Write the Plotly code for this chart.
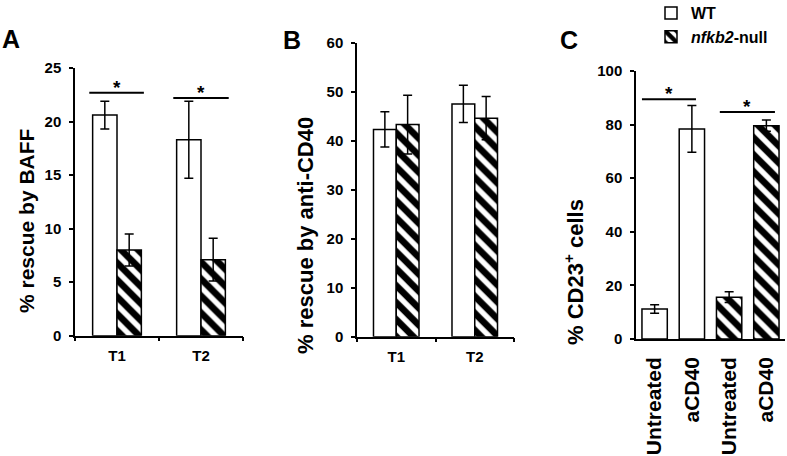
import plotly.graph_objects as go

# ---------------- data ----------------
timepoints = ["T1", "T2"]
a_wt = [20.6, 18.3]
a_wt_err = [1.3, 3.6]
a_null = [8.0, 7.1]
a_null_err = [1.5, 2.0]
a_sig_y = [22.7, 22.2]

b_wt = [42.3, 47.5]
b_wt_err = [3.6, 3.8]
b_null = [43.3, 44.6]
b_null_err = [6.0, 4.4]

c_labels = ["Untreated", "aCD40", "Untreated", "aCD40"]
c_vals = [11.2, 78.4, 15.6, 79.6]
c_err = [1.6, 8.7, 2.0, 2.1]
c_sig_y = [89.5, 84.7]

# ---------------- layout helpers ----------------
W, H = 787, 456
FONT = "Arial, Liberation Sans, sans-serif"


def px_x(p):
    return p / W


def px_y(p):
    return 1 - p / H


line_style = dict(color="black", width=1.5)
err_style = dict(type="data", color="black", thickness=1.5, width=4.5, visible=True)
hatch = dict(shape="\\", fgcolor="black", bgcolor="white", size=12, solidity=0.55, fgopacity=1)

fig = go.Figure()

# Panel A
fig.add_trace(go.Bar(x=timepoints, y=a_wt, error_y=dict(array=a_wt_err, **err_style),
                     offset=-0.29, width=0.29, name="WT", legendgroup="wt",
                     marker=dict(color="white", line=line_style), xaxis="x", yaxis="y"))
fig.add_trace(go.Bar(x=timepoints, y=a_null, error_y=dict(array=a_null_err, **err_style),
                     offset=0.0, width=0.29, name="<i>nfkb2</i>-null", legendgroup="null",
                     marker=dict(color="white", line=line_style, pattern=hatch), xaxis="x", yaxis="y"))
# Panel B
fig.add_trace(go.Bar(x=timepoints, y=b_wt, error_y=dict(array=b_wt_err, **err_style),
                     offset=-0.29, width=0.29, showlegend=False, legendgroup="wt",
                     marker=dict(color="white", line=line_style), xaxis="x2", yaxis="y2"))
fig.add_trace(go.Bar(x=timepoints, y=b_null, error_y=dict(array=b_null_err, **err_style),
                     offset=0.0, width=0.29, showlegend=False, legendgroup="null",
                     marker=dict(color="white", line=line_style, pattern=hatch), xaxis="x2", yaxis="y2"))
# Panel C
c_x = list(range(len(c_labels)))
fig.add_trace(go.Bar(x=c_x[:2], y=c_vals[:2], error_y=dict(array=c_err[:2], **err_style),
                     width=0.68, showlegend=False, legendgroup="wt",
                     marker=dict(color="white", line=line_style), xaxis="x3", yaxis="y3"))
fig.add_trace(go.Bar(x=c_x[2:], y=c_vals[2:], error_y=dict(array=c_err[2:], **err_style),
                     width=0.68, showlegend=False, legendgroup="null",
                     marker=dict(color="white", line=line_style, pattern=hatch), xaxis="x3", yaxis="y3"))

tickfont = dict(family=FONT, size=15, color="black", weight="bold")
common_x = dict(showline=True, linecolor="black", linewidth=1.5, showgrid=False, zeroline=False,
                ticks="outside", ticklen=4, tickwidth=1.5, tickcolor="black", tickfont=tickfont,
                fixedrange=True)
common_y = dict(showline=True, linecolor="black", linewidth=1.5, showgrid=False, zeroline=False,
                ticks="outside", ticklen=4, tickwidth=1.5, tickcolor="black", tickfont=tickfont,
                ticklabelstandoff=5, fixedrange=True)

fig.update_layout(
    width=W, height=H,
    margin=dict(l=0, r=0, t=0, b=0, autoexpand=False),
    paper_bgcolor="white", plot_bgcolor="white",
    font=dict(family=FONT, color="black"),
    showlegend=True,
    legend=dict(x=px_x(651), y=px_y(-4), xanchor="left", yanchor="top",
                font=dict(family=FONT, size=16, color="black", weight="bold"),
                bgcolor="rgba(0,0,0,0)", tracegroupgap=0, itemclick=False, itemdoubleclick=False),
    xaxis=dict(domain=[px_x(75), px_x(243)], anchor="y", type="category", range=[-0.5, 1.5],
               tickson="boundaries", ticklabelstandoff=6, **common_x),
    yaxis=dict(domain=[px_y(335.7), px_y(68)], anchor="x", range=[0, 25], dtick=5, **common_y),
    xaxis2=dict(domain=[px_x(357), px_x(514)], anchor="y2", type="category", range=[-0.5, 1.5],
                tickson="boundaries", ticklabelstandoff=6, **common_x),
    yaxis2=dict(domain=[px_y(336.7), px_y(42.7)], anchor="x2", range=[0, 60], dtick=10, **common_y),
    xaxis3=dict(domain=[px_x(636), px_x(785)], anchor="y3", range=[-0.5, 3.5],
                tickmode="array", tickvals=c_x, ticktext=[f"<b>{t}</b>" for t in c_labels],
                tickangle=-90,
                showline=True, linecolor="black", linewidth=1.5, showgrid=False, zeroline=False,
                ticks="", ticklabelstandoff=8, fixedrange=True,
                tickfont=dict(family=FONT, size=21, color="black", weight="bold")),
    yaxis3=dict(domain=[px_y(339), px_y(71)], anchor="x3", range=[0, 100], dtick=20, **common_y),
)

# significance bars
sig_specs = [
    ("x", "y", -0.33, 0.32, a_sig_y[0]),
    ("x", "y", 0.67, 1.33, a_sig_y[1]),
    ("x3", "y3", -0.34, 1.11, c_sig_y[0]),
    ("x3", "y3", 1.75, 3.23, c_sig_y[1]),
]
for xr, yr, x0, x1, yv in sig_specs:
    fig.add_shape(type="line", xref=xr, yref=yr, x0=x0, x1=x1, y0=yv, y1=yv,
                  line=dict(color="black", width=2))
    fig.add_annotation(xref=xr, yref=yr, x=(x0 + x1) / 2, y=yv, text="<b>*</b>", showarrow=False,
                       yanchor="bottom", yshift=-7, font=dict(family=FONT, size=19, color="black"))

# panel letters
for letter, cx, cy in [("A", 11, 39), ("B", 292, 40), ("C", 569, 40)]:
    fig.add_annotation(xref="paper", yref="paper", x=px_x(cx), y=px_y(cy), text=f"<b>{letter}</b>",
                       showarrow=False, xanchor="center", yanchor="middle",
                       font=dict(family=FONT, size=25, color="black"))

# y-axis titles
for text, cx, cy, size in [("% rescue by BAFF", 26, 221, 21),
                           ("% rescue by anti-CD40", 305, 236, 22),
                           ("% CD23<sup>+</sup> cells", 574, 272, 22)]:
    fig.add_annotation(xref="paper", yref="paper", x=px_x(cx), y=px_y(cy), text=f"<b>{text}</b>",
                       textangle=-90, showarrow=False, xanchor="center", yanchor="middle",
                       font=dict(family=FONT, size=size, color="black"))

fig.write_html("out.html", config={"displayModeBar": False},
               post_script="document.body.style.margin='0';")
